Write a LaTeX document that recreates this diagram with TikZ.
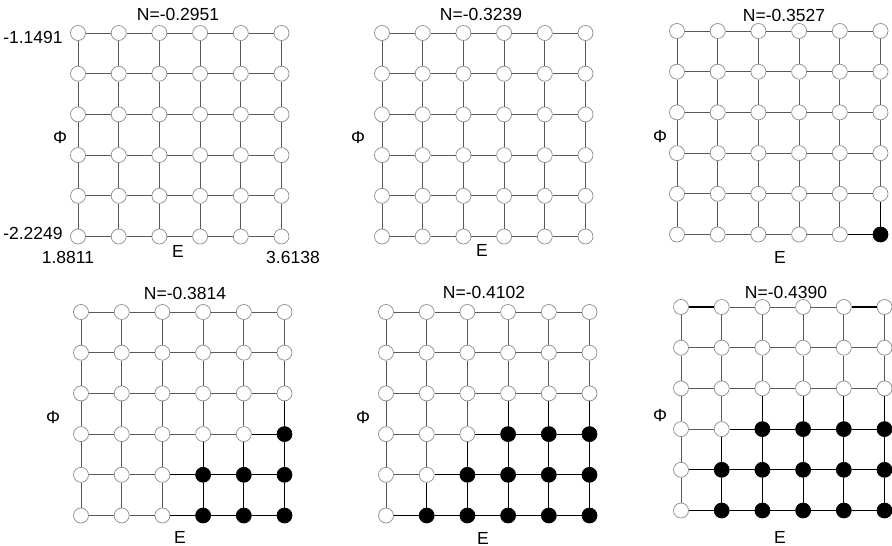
\documentclass[tikz,border=0pt]{standalone}
\usepackage{fontspec}
\setmainfont{Liberation Sans}
\definecolor{edgegray}{HTML}{585858}
\definecolor{ringgray}{HTML}{8C8C8C}
\begin{document}
\begin{tikzpicture}[x=1pt,y=-1pt,
  wnode/.style={circle,draw=ringgray,fill=white,line width=0.7pt,minimum size=15pt,inner sep=0pt},
  bnode/.style={circle,draw=black,fill=black,line width=0.7pt,minimum size=15pt,inner sep=0pt},
  gedge/.style={draw=edgegray,line width=1pt},
  bedge/.style={draw=black,line width=1pt},
  lbl/.style={inner sep=0pt,font=\fontsize{17.5}{20}\selectfont}]
\useasboundingbox (0,0) rectangle (892,546);
\foreach \p/\xo/\yo/\td/\te/\tf in {1/78/33/7/7/7, 2/382/33/7/7/7, 3/677/31/7/7/6, 4/81/312/6/4/4, 5/386/312/4/3/2, 6/681/307/3/2/2}{
  % nodes
  \foreach \j in {1,...,6}{
    \pgfmathtruncatemacro\rowthr{\j<4 ? 7 : (\j==4 ? \td : (\j==5 ? \te : \tf))}
    \foreach \i in {1,...,6}{
      \ifnum\i<\rowthr\relax
        \node[wnode] (p\p-\i-\j) at ({\xo+(\i-1)*40.7},{\yo+(\j-1)*40.7}) {};
      \else
        \node[bnode] (p\p-\i-\j) at ({\xo+(\i-1)*40.7},{\yo+(\j-1)*40.7}) {};
      \fi
    }
  }
  % horizontal edges
  \foreach \j in {1,...,6}{
    \pgfmathtruncatemacro\rowthr{\j<4 ? 7 : (\j==4 ? \td : (\j==5 ? \te : \tf))}
    \foreach \i in {1,...,5}{
      \pgfmathtruncatemacro\ii{\i+1}
      \ifnum\ii<\rowthr\relax
        \draw[gedge] (p\p-\i-\j) -- (p\p-\ii-\j);
      \else
        \draw[bedge] (p\p-\i-\j) -- (p\p-\ii-\j);
      \fi
    }
  }
  % vertical edges
  \foreach \j in {1,...,5}{
    \pgfmathtruncatemacro\nextthr{\j<3 ? 7 : (\j==3 ? \td : (\j==4 ? \te : \tf))}
    \pgfmathtruncatemacro\jj{\j+1}
    \foreach \i in {1,...,6}{
      \ifnum\i<\nextthr\relax
        \draw[gedge] (p\p-\i-\j) -- (p\p-\i-\jj);
      \else
        \draw[bedge] (p\p-\i-\j) -- (p\p-\i-\jj);
      \fi
    }
  }
}
% a few darker links seen in the reference
\draw[bedge,line width=1.3pt] (p6-1-1) -- (p6-2-1);
\draw[bedge,line width=1.3pt] (p6-5-1) -- (p6-6-1);
\draw[bedge,line width=1.3pt] (p5-1-6) -- (p5-2-6);
% titles and axis labels
\foreach \p/\tx/\ty/\tt/\fx/\fy/\ex/\ey in {
  1/178/14/-0.2951/60/137/178/251,
  2/481/14/-0.3239/358/137/482/250,
  3/784/15/-0.3527/660/136/780/257,
  4/185/293/-0.3814/53/417/180/537,
  5/484/292/-0.4102/363/417/483/538,
  6/786/292/-0.4390/660/415/780/537}{
  \node[lbl] (title\p) at (\tx,\ty) {N=\tt};
  \node[lbl] (phi\p) at (\fx,\fy) {Φ};
  \node[lbl] (e\p) at (\ex,\ey) {E};
}
\node[lbl] (ymax) at (33,37) {-1.1491};
\node[lbl] (ymin) at (33,233) {-2.2249};
\node[lbl] (xmin) at (68,257) {1.8811};
\node[lbl] (xmax) at (293,257) {3.6138};
\end{tikzpicture}
\end{document}
